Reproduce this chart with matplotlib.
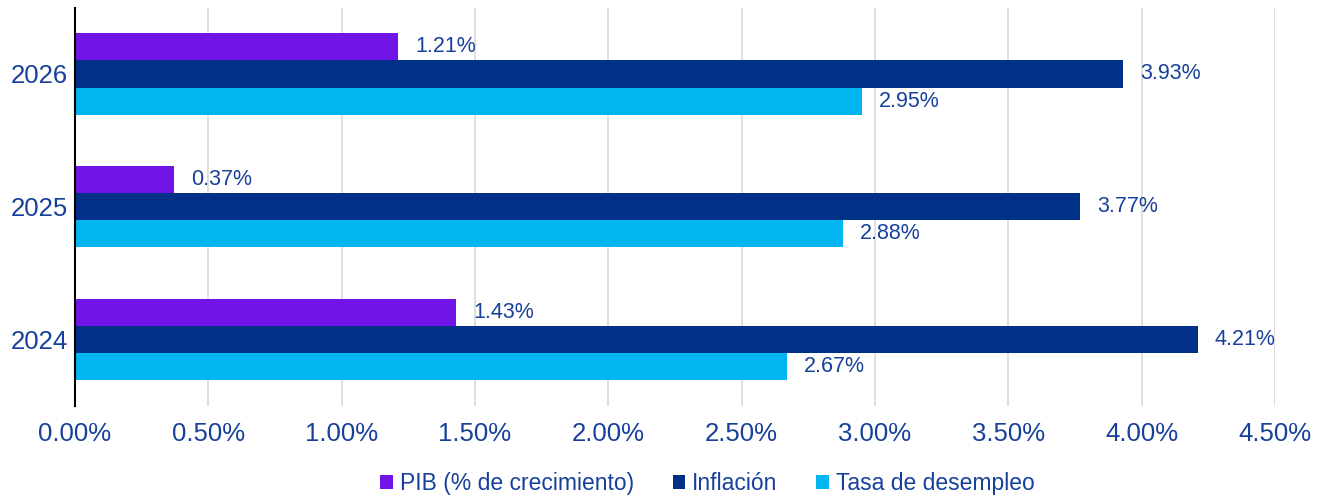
import matplotlib.pyplot as plt
import numpy as np

plt.rcParams['font.family'] = ['Liberation Sans', 'DejaVu Sans']

years = ['2024', '2025', '2026']
pib = [1.43, 0.37, 1.21]
inflacion = [4.21, 3.77, 3.93]
desempleo = [2.67, 2.88, 2.95]
series_names = ['PIB (% de crecimiento)', 'Inflación', 'Tasa de desempleo']
colors = ['#7014E8', '#003087', '#00B5F0']
txt = '#17409A'

fig = plt.figure(figsize=(13.23, 5.01), dpi=100)
ax = fig.add_axes([0.0567, 0.19, 0.907, 0.795])

y = np.arange(len(years))
h = 0.205
for i, (vals, name, c) in enumerate(zip([pib, inflacion, desempleo], series_names, colors)):
    pos = y + h * (1 - i)
    ax.barh(pos, vals, height=h, color=c, label=name)
    for p, v in zip(pos, vals):
        ax.text(v + 0.065, p, f'{v:.2f}%', va='center', ha='left', fontsize=15.5, color=txt)

ax.set_xlim(0, 4.5)
ax.set_ylim(-0.5, 2.5)
ax.set_xticks(np.arange(0, 4.51, 0.5))
ax.set_xticklabels([f'{t:.2f}%' for t in np.arange(0, 4.51, 0.5)])
ax.set_yticks(y)
ax.set_yticklabels(years)
ax.tick_params(length=0, labelsize=18.5, colors=txt)
ax.tick_params(axis='y', pad=5)
ax.tick_params(axis='x', pad=12)
ax.grid(axis='x', color='#D9D9D9', linewidth=1.2)
ax.set_axisbelow(True)
for s in ['top', 'right', 'bottom']:
    ax.spines[s].set_visible(False)
ax.spines['left'].set_color('black')
ax.spines['left'].set_linewidth(1.5)

ax.legend(loc='upper center', bbox_to_anchor=(0.527, -0.115), ncol=3, frameon=False,
          fontsize=16.5, labelcolor=txt, handlelength=0.55, handleheight=0.55,
          handletextpad=0.3, columnspacing=1.7)

fig.savefig('out.png', dpi=100)
